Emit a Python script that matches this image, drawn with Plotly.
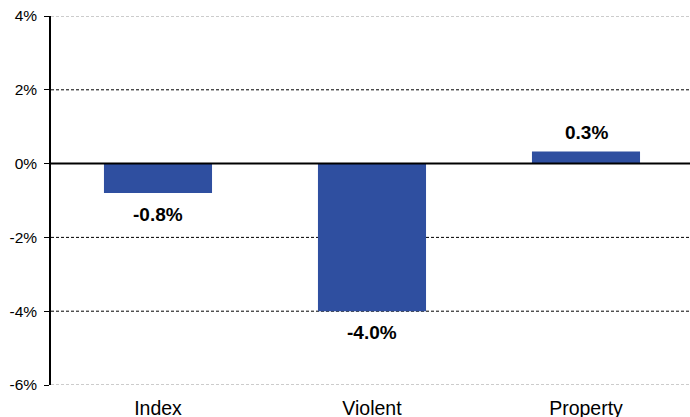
import plotly.graph_objects as go

categories = ["Index", "Violent", "Property"]
values = [-0.8, -4.0, 0.33]
labels = ["-0.8%", "-4.0%", "0.3%"]
tick_vals = [-6, -4, -2, 0, 2, 4]
tick_text = ["-6%", "-4%", "-2%", "0%", "2%", "4%"]

fig = go.Figure()
fig.add_trace(go.Bar(x=categories, y=values, marker_color="#2F4FA0",
                     marker_line_width=0, width=0.505))

for c, v, t in zip(categories, values, labels):
    fig.add_annotation(x=c, y=v, text="<b>%s</b>" % t, showarrow=False,
                       yanchor="top" if v < 0 else "bottom",
                       yshift=-9 if v < 0 else 6,
                       font=dict(family="Liberation Sans, Arial", size=19, color="#000"))

for tv in tick_vals:
    if tv == 0:
        continue
    edge = tv in (tick_vals[0], tick_vals[-1])
    fig.add_shape(type="line", xref="paper", x0=0, x1=1, yref="y", y0=tv, y1=tv,
                  line=dict(color="#999999" if edge else "#000000", width=1, dash="3px,2px"),
                  layer="below")

fig.add_shape(type="line", xref="paper", x0=0, x1=1, yref="y", y0=0, y1=0,
              line=dict(color="#000000", width=2), layer="above")

fig.update_layout(
    width=690, height=417,
    margin=dict(l=51, r=0, t=16, b=32, autoexpand=False),
    plot_bgcolor="white", paper_bgcolor="white",
    showlegend=False,
    font=dict(family="Liberation Sans, Arial", size=15, color="#000"),
    xaxis=dict(range=[-0.5, 2.486], showgrid=False, showline=False, ticks="",
               tickfont=dict(size=19.5), ticklabelstandoff=9, automargin=False),
    yaxis=dict(range=[-6, 4], tickvals=tick_vals, ticktext=tick_text, showgrid=False,
               zeroline=False, showline=True, linecolor="#000", linewidth=1.5,
               ticks="outside", ticklen=5, tickcolor="#000", tickwidth=1,
               tickfont=dict(size=15.5), ticklabelstandoff=4, automargin=False),
)

fig.write_html("out.html", config={"displayModeBar": False},
               post_script="document.body.style.margin='0px';document.body.style.overflow='hidden';")
